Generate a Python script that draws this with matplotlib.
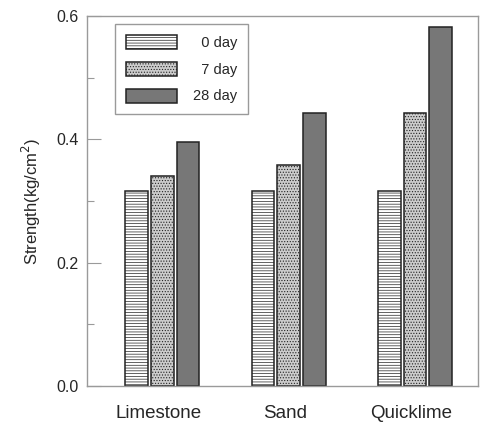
"""Strength of limestone / sand / quicklime mixes at 0, 7 and 28 days."""

import matplotlib

matplotlib.use("Agg")
import matplotlib.pyplot as plt
import numpy as np
from matplotlib.ticker import FixedLocator, FormatStrFormatter

materials = ["Limestone", "Sand", "Quicklime"]
ages = ["0 day", "7 day", "28 day"]
legend_labels = ["  0 day", "  7 day", "28 day"]

day0 = [0.316, 0.316, 0.316]
day7 = [0.340, 0.358, 0.443]
day28 = [0.396, 0.443, 0.583]

y_ticks = [0.0, 0.2, 0.4, 0.6]
y_minor = [0.1, 0.3, 0.5]

plt.rcParams["font.family"] = ["Liberation Sans", "DejaVu Sans"]
plt.rcParams["hatch.linewidth"] = 0.5

STYLES = [
    {"facecolor": "white", "hatch": "------"},
    {"facecolor": "#cccccc", "hatch": "......"},
    {"facecolor": "#777777", "hatch": None},
]
TEXT = "#262626"
FRAME = "#9a9a9a"

fig = plt.figure(figsize=(4.84, 4.26), dpi=100)
ax = fig.add_axes([0.179, 0.094, 0.809, 0.868])

x = np.arange(1, len(materials) + 1)
step = 0.203
width = 0.18
for i, (vals, lab, st) in enumerate(zip([day0, day7, day28], legend_labels, STYLES)):
    ax.bar(
        x + (i - 1) * step,
        vals,
        width=width,
        facecolor=st["facecolor"],
        hatch=st["hatch"],
        edgecolor="#222222",
        linewidth=1.1,
        label=lab,
        zorder=2,
    )

ax.set_xlim(0.4, 3.5)
ax.set_ylim(0, 0.6)
ax.set_xticks(x - 0.03)
ax.set_xticklabels(materials, fontsize=13.5, color=TEXT)
ax.tick_params(axis="x", length=0, pad=14)

ax.yaxis.set_major_locator(FixedLocator(y_ticks))
ax.yaxis.set_minor_locator(FixedLocator(y_minor))
ax.yaxis.set_major_formatter(FormatStrFormatter("%.1f"))
ax.tick_params(axis="y", which="major", direction="in", length=10, width=0.8,
               color=FRAME, labelsize=11.5, labelcolor=TEXT, pad=6)
ax.tick_params(axis="y", which="minor", direction="in", length=5, width=0.8, color=FRAME)
ax.set_ylabel("Strength(kg/cm$^2$)", fontsize=12, color=TEXT, labelpad=9)

for sp in ax.spines.values():
    sp.set_color(FRAME)
    sp.set_linewidth(1.0)

leg = ax.legend(
    loc="upper left",
    bbox_to_anchor=(0.073, 0.978),
    borderaxespad=0,
    fontsize=10.5,
    handlelength=3.5,
    handleheight=1.1,
    handletextpad=1.05,
    labelspacing=0.8,
    borderpad=0.75,
    fancybox=False,
    framealpha=1,
    edgecolor=FRAME,
)
leg.get_frame().set_linewidth(1.0)
for t in leg.get_texts():
    t.set_color(TEXT)

fig.savefig("out.png", dpi=100)
